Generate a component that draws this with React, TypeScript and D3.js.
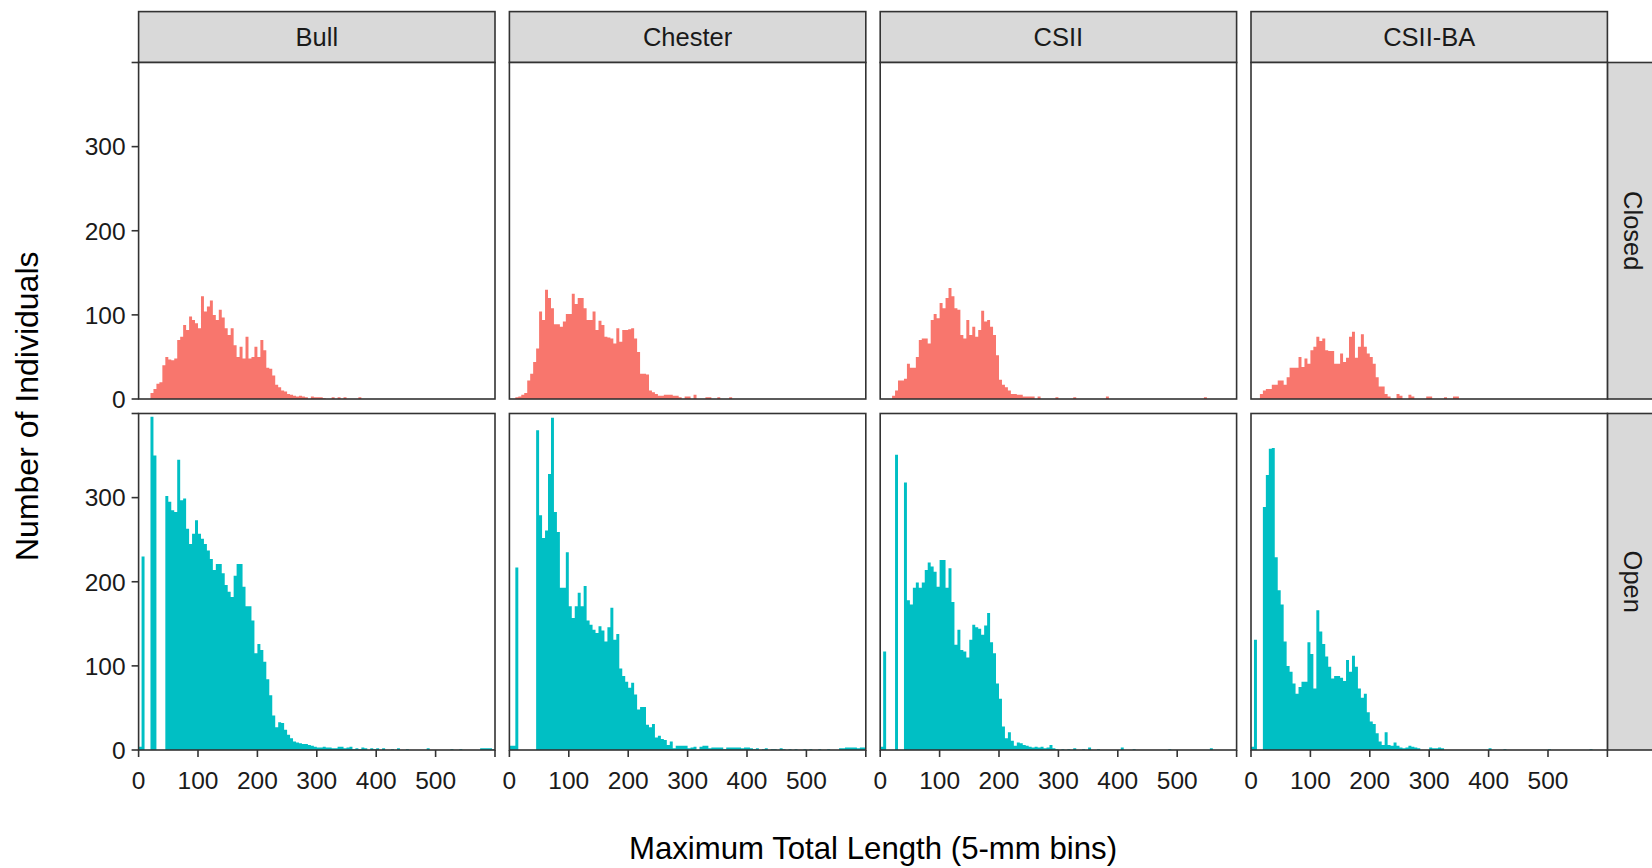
import React from "react";
import * as d3 from "d3";

// Facet levels
const sites = ["Bull", "Chester", "CSII", "CSII-BA"];
const statuses = ["Closed", "Open"];
const fills = ["#F8766D", "#00BFC4"];

// Histogram bins: 5-mm wide, starting at 0 mm (120 bins up to 600 mm)
const binWidth = 5;
const xTicks = [0, 100, 200, 300, 400, 500, 600];
const xTickLabels = ["0", "100", "200", "300", "400", "500", ""];
const yTicks = [0, 100, 200, 300, 400];
const yTickLabels = ["0", "100", "200", "300", ""];

// Counts per 5-mm bin, closed reefs
const bullClosed = [
  0, 0, 0, 0, 7, 12, 18, 20, 40, 50,
  47, 46, 48, 70, 74, 88, 82, 98, 94, 90,
  84, 122, 104, 110, 117, 100, 94, 106, 97, 84,
  76, 84, 64, 50, 62, 48, 74, 48, 50, 62,
  50, 70, 58, 37, 36, 28, 17, 14, 10, 9,
  6, 5, 4, 3, 4, 3, 2, 0, 3, 2,
  2, 2, 1, 0, 0, 2, 0, 2, 0, 2,
  0, 0, 0, 0, 2, 0, 0, 0, 0, 0,
  0, 0, 0, 0, 0, 0, 0, 0, 0, 0,
  0, 0, 0, 0, 0, 0, 0, 0, 0, 0,
  0, 0, 0, 0, 0, 0, 0, 0, 0, 0,
  0, 0, 0, 0, 0, 0, 0, 0, 0, 0,
];
const chesterClosed = [
  0, 0, 2, 3, 5, 7, 22, 30, 44, 60,
  104, 94, 130, 120, 108, 89, 89, 86, 92, 101,
  101, 125, 113, 120, 120, 108, 94, 94, 104, 82,
  93, 88, 74, 73, 72, 66, 84, 68, 82, 82,
  83, 84, 72, 56, 30, 30, 29, 10, 8, 6,
  4, 4, 5, 5, 5, 4, 4, 2, 0, 3,
  3, 0, 5, 0, 0, 0, 2, 2, 0, 0,
  2, 0, 0, 0, 2, 0, 0, 0, 0, 0,
  0, 0, 0, 0, 0, 0, 0, 0, 0, 0,
  0, 0, 0, 0, 0, 0, 0, 0, 0, 0,
  0, 0, 0, 0, 0, 0, 0, 0, 0, 0,
  0, 0, 0, 0, 0, 0, 0, 0, 0, 0,
];
const csiiClosed = [
  0, 0, 0, 0, 4, 10, 22, 22, 24, 42,
  37, 37, 50, 70, 72, 72, 66, 94, 101, 96,
  114, 108, 120, 132, 122, 108, 106, 76, 72, 94,
  76, 86, 74, 82, 105, 92, 94, 86, 76, 52,
  23, 17, 14, 10, 6, 6, 5, 5, 3, 3,
  3, 3, 0, 3, 0, 0, 0, 0, 0, 2,
  0, 0, 0, 0, 0, 2, 0, 0, 0, 0,
  0, 0, 0, 0, 0, 0, 3, 0, 0, 0,
  0, 0, 0, 0, 0, 0, 0, 0, 0, 0,
  0, 0, 0, 0, 0, 0, 0, 0, 0, 0,
  0, 0, 0, 0, 0, 0, 0, 0, 0, 2,
  0, 0, 0, 0, 0, 0, 0, 0, 0, 0,
];
const csiibaClosed = [
  0, 0, 0, 6, 10, 12, 12, 17, 17, 22,
  22, 17, 26, 37, 37, 37, 50, 38, 48, 42,
  58, 62, 74, 69, 72, 58, 57, 57, 42, 42,
  54, 44, 49, 74, 80, 49, 62, 77, 62, 54,
  50, 42, 26, 15, 15, 6, 3, 0, 0, 6,
  4, 0, 0, 5, 3, 0, 0, 0, 0, 3,
  3, 0, 0, 0, 0, 2, 0, 0, 3, 3,
  0, 0, 0, 0, 0, 0, 0, 0, 0, 0,
  0, 0, 0, 0, 0, 0, 0, 0, 0, 0,
  0, 0, 0, 0, 0, 0, 0, 0, 0, 0,
  0, 0, 0, 0, 0, 0, 0, 0, 0, 0,
  0, 0, 0, 0, 0, 0, 0, 0, 0, 0,
];

// Counts per 5-mm bin, open reefs
const bullOpen = [
  4, 230, 0, 0, 396, 350, 0, 0, 0, 302,
  295, 285, 283, 345, 297, 299, 263, 245, 257, 273,
  257, 251, 245, 237, 227, 214, 221, 221, 210, 196,
  188, 182, 207, 221, 221, 194, 171, 171, 154, 115,
  126, 119, 105, 84, 65, 41, 27, 33, 32, 24,
  18, 14, 10, 9, 8, 7, 7, 6, 5, 4,
  3, 3, 4, 3, 3, 2, 2, 4, 4, 2,
  3, 4, 1, 2, 1, 3, 2, 0, 2, 1,
  2, 0, 2, 0, 0, 1, 0, 2, 0, 0,
  1, 0, 0, 0, 0, 0, 0, 2, 0, 0,
  0, 0, 0, 0, 0, 1, 0, 0, 1, 0,
  0, 0, 0, 0, 0, 2, 2, 2, 2, 1,
];
const chesterOpen = [
  5, 5, 217, 0, 0, 0, 0, 0, 0, 380,
  279, 252, 261, 328, 395, 283, 259, 193, 193, 235,
  171, 157, 171, 187, 171, 195, 154, 149, 143, 139,
  147, 142, 129, 146, 169, 131, 138, 97, 88, 81,
  74, 80, 66, 48, 51, 51, 30, 27, 31, 15,
  17, 13, 12, 6, 10, 2, 5, 5, 5, 5,
  2, 3, 4, 0, 4, 5, 5, 2, 3, 3,
  3, 3, 1, 3, 3, 3, 3, 3, 2, 3,
  3, 2, 1, 2, 0, 1, 2, 0, 1, 1,
  0, 2, 1, 0, 1, 0, 1, 0, 0, 1,
  0, 1, 0, 0, 1, 0, 0, 1, 0, 0,
  0, 2, 2, 3, 3, 3, 3, 2, 3, 3,
];
const csiiOpen = [
  4, 117, 0, 0, 0, 351, 0, 0, 318, 178,
  173, 193, 199, 193, 199, 214, 223, 218, 212, 194,
  226, 226, 193, 216, 176, 125, 143, 119, 117, 110,
  131, 149, 146, 144, 137, 148, 163, 128, 115, 79,
  61, 28, 14, 21, 11, 5, 9, 8, 6, 5,
  4, 3, 4, 3, 4, 2, 3, 6, 2, 1,
  0, 1, 0, 1, 0, 2, 0, 0, 1, 0,
  3, 0, 0, 1, 0, 0, 0, 0, 0, 0,
  0, 3, 0, 0, 0, 1, 0, 0, 0, 0,
  0, 0, 0, 0, 0, 0, 0, 1, 0, 0,
  0, 0, 0, 0, 0, 0, 0, 0, 0, 0,
  0, 2, 0, 0, 0, 0, 0, 0, 0, 0,
];
const csiibaOpen = [
  4, 131, 0, 0, 289, 327, 358, 359, 229, 190,
  173, 129, 100, 93, 79, 67, 75, 81, 81, 128,
  114, 73, 166, 141, 126, 111, 99, 85, 88, 88,
  86, 82, 107, 93, 112, 99, 73, 62, 67, 45,
  34, 31, 20, 10, 6, 21, 6, 5, 9, 5,
  3, 2, 3, 5, 4, 3, 2, 0, 0, 0,
  3, 2, 2, 3, 2, 0, 0, 0, 0, 0,
  0, 0, 0, 0, 0, 0, 0, 0, 0, 0,
  2, 0, 0, 0, 0, 1, 0, 0, 0, 0,
  0, 0, 0, 0, 0, 0, 0, 0, 0, 0,
  1, 0, 0, 0, 0, 0, 0, 0, 0, 0,
  0, 0, 0, 0, 1, 0, 0, 0, 0, 0,
];

const counts: number[][][] = [
  [bullClosed, chesterClosed, csiiClosed, csiibaClosed],
  [bullOpen, chesterOpen, csiiOpen, csiibaOpen],
];

// Layout
const W = 1652;
const H = 868;
const left0 = 138.6;
const panelW = 356.4;
const colStep = 370.8;
const stripTop = 11.6;
const top0 = 62.5;
const panelH = 336.5;
const rowStep = 351;
const stripSize = top0 - stripTop;
const tickLen = 7;
const line = "#333333";
const font = "'Liberation Sans', Arial, sans-serif";
const tickFont = 24.5;
const stripFont = 25.5;

const x = d3.scaleLinear().domain([0, 600]).range([0, panelW]);
const y = d3.scaleLinear().domain([0, 400]).range([panelH, 0]);

const area = d3
  .area<{ x0: number; n: number }>()
  .x((d) => x(d.x0))
  .y0(y(0))
  .y1((d) => y(d.n))
  .curve(d3.curveStepAfter);

function histPath(values: number[]) {
  const pts = values.map((n, i) => ({ x0: i * binWidth, n }));
  pts.push({ x0: values.length * binWidth, n: values[values.length - 1] });
  return area(pts) || "";
}

function Panel({ row, col }: { row: number; col: number }) {
  const px = left0 + col * colStep;
  const py = top0 + row * rowStep;
  const id = `clip-${row}-${col}`;
  return (
    <g transform={`translate(${px},${py})`}>
      <clipPath id={id}>
        <rect x={0} y={0} width={panelW} height={panelH} />
      </clipPath>
      <rect x={0} y={0} width={panelW} height={panelH} fill="#ffffff" />
      <path d={histPath(counts[row][col])} fill={fills[row]} clipPath={`url(#${id})`} />
      <rect x={0} y={0} width={panelW} height={panelH} fill="none" stroke={line} strokeWidth={1.6} />
    </g>
  );
}

export default function App() {
  return (
    <div style={{ position: "absolute", left: 0, top: 0 }}>
      <svg width={W} height={H} style={{ display: "block", background: "#fff" }} fontFamily={font}>
        {/* column strips */}
        {sites.map((s, c) => {
          const px = left0 + c * colStep;
          return (
            <g key={s}>
              <rect x={px} y={stripTop} width={panelW} height={stripSize} fill="#D9D9D9" stroke={line} strokeWidth={1.6} />
              <text x={px + panelW / 2} y={stripTop + stripSize / 2} dy="0.36em" textAnchor="middle" fontSize={stripFont} fill="#1A1A1A">
                {s}
              </text>
            </g>
          );
        })}
        {/* row strips */}
        {statuses.map((s, r) => {
          const px = left0 + 3 * colStep + panelW;
          const py = top0 + r * rowStep;
          return (
            <g key={s}>
              <rect x={px} y={py} width={stripSize} height={panelH} fill="#D9D9D9" stroke={line} strokeWidth={1.6} />
              <text
                transform={`translate(${px + stripSize / 2},${py + panelH / 2}) rotate(90)`}
                dy="0.36em"
                textAnchor="middle"
                fontSize={stripFont}
                fill="#1A1A1A"
              >
                {s}
              </text>
            </g>
          );
        })}
        {statuses.map((_, r) => sites.map((_, c) => <Panel key={`${r}-${c}`} row={r} col={c} />))}
        {/* y axes */}
        {statuses.map((s, r) => {
          const py = top0 + r * rowStep;
          return (
            <g key={`ya-${s}`} transform={`translate(${left0},${py})`}>
              {yTicks.map((t, i) => (
                <g key={t} transform={`translate(0,${y(t)})`}>
                  <line x1={-tickLen} x2={0} stroke={line} strokeWidth={1.6} />
                  <text x={-tickLen - 6} dy="0.36em" textAnchor="end" fontSize={tickFont} fill="#1A1A1A">
                    {yTickLabels[i]}
                  </text>
                </g>
              ))}
            </g>
          );
        })}
        {/* x axes */}
        {sites.map((s, c) => {
          const px = left0 + c * colStep;
          const py = top0 + rowStep + panelH;
          return (
            <g key={`xa-${s}`} transform={`translate(${px},${py})`}>
              {xTicks.map((t, i) => (
                <g key={t} transform={`translate(${x(t)},0)`}>
                  <line y1={0} y2={tickLen} stroke={line} strokeWidth={1.6} />
                  <text y={tickLen + 13} dy="0.76em" textAnchor="middle" fontSize={tickFont} fill="#1A1A1A">
                    {xTickLabels[i]}
                  </text>
                </g>
              ))}
            </g>
          );
        })}
        {/* axis titles */}
        <text
          x={left0 + (3 * colStep + panelW) / 2}
          y={848}
          dy="0.36em"
          textAnchor="middle"
          fontSize={31.2}
          fill="#000"
        >
          Maximum Total Length (5-mm bins)
        </text>
        <text
          transform={`translate(26,${top0 + (rowStep + panelH) / 2}) rotate(-90)`}
          dy="0.36em"
          textAnchor="middle"
          fontSize={32}
          fill="#000"
        >
          Number of Individuals
        </text>
      </svg>
    </div>
  );
}
